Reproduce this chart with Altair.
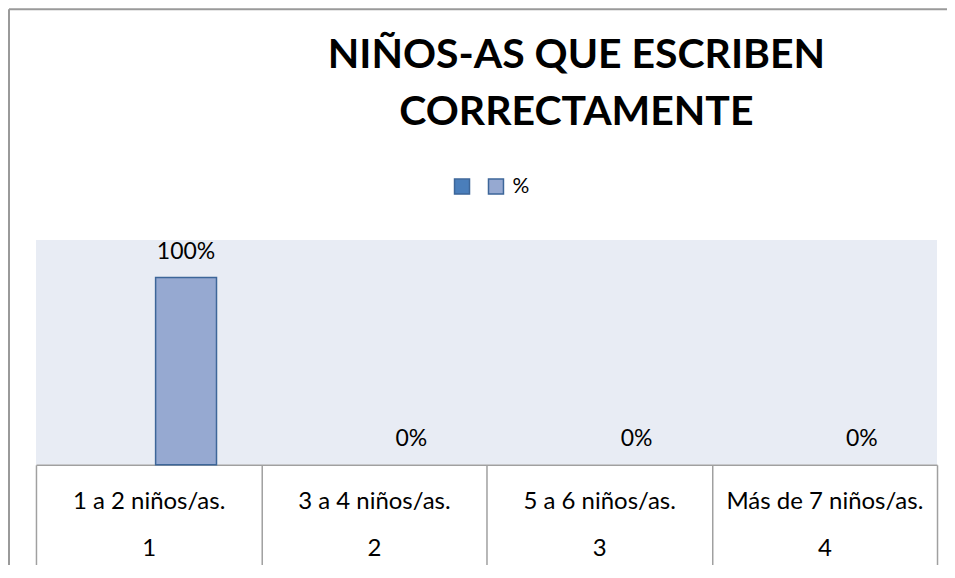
import altair as alt
import pandas as pd

categories = ["1 a 2 niños/as.", "3 a 4 niños/as.", "5 a 6  niños/as.", "Más de 7 niños/as."]
numbers = ["1", "2", "3", "4"]
values = [1.0, 0.0, 0.0, 0.0]
series = [" ", "%"]
title_lines = ["NIÑOS-AS QUE ESCRIBEN", "CORRECTAMENTE"]

df = pd.DataFrame({
    "key": [f"{c}|{n}" for c, n in zip(categories, numbers)],
    "value": values,
    "series": ["%"] * len(categories),
})

W, H = 902, 225
FONT = "Lato"
GRID = "#a0a0a0"
BORDER = "#9a9a9a"

x = alt.X(
    "key:N", sort=None,
    scale=alt.Scale(paddingInner=0, paddingOuter=0),
    axis=alt.Axis(
        title=None, labelExpr="split(datum.label, '|')", labelAngle=0,
        labelFont=FONT, labelFontSize=24, labelColor="#000", labelLineHeight=47,
        labelBaseline="top", labelPadding=-78, labelLimit=0,
        ticks=True, tickBand="extent", tickSize=103, tickColor=GRID, tickWidth=1.5,
        domainColor=GRID, domainWidth=1.5,
    ),
)
xoff = alt.XOffset("series:N", scale=alt.Scale(domain=series, paddingInner=0.187, paddingOuter=0.597))
y = alt.Y("value:Q", scale=alt.Scale(domain=[0, 1.2]), axis=None)
color = alt.Color(
    "series:N",
    scale=alt.Scale(domain=series, range=["#4a7ebb", "#96a9d1"]),
    legend=alt.Legend(
        title=None, orient="none", legendX=416, legendY=-64, direction="horizontal",
        symbolType="square", symbolSize=225, symbolStrokeColor="#3d6699", symbolStrokeWidth=1.5,
        labelFont=FONT, labelFontSize=21, labelColor="#000", labelOffset=6, columnPadding=7,
    ),
)

bars = alt.Chart(df).mark_bar(stroke="#3d6699", strokeWidth=1.5).encode(
    x=x, xOffset=xoff, y=y, color=color,
    strokeOpacity=alt.condition(alt.datum.value > 0, alt.value(1), alt.value(0)),
)
labels = alt.Chart(df).mark_text(
    font=FONT, fontSize=23, color="#000", baseline="alphabetic", dy=-19
).encode(x=x, xOffset=xoff, y=y, text=alt.Text("value:Q", format=".0%"))

one = pd.DataFrame({"a": [0]})
left_border = alt.Chart(one).mark_rule(color=BORDER, strokeWidth=2, clip=False).encode(
    x=alt.value(-27), y=alt.value(-231), y2=alt.value(400)
)
top_border = alt.Chart(one).mark_rule(color=BORDER, strokeWidth=2, clip=False).encode(
    x=alt.value(-27), x2=alt.value(1000), y=alt.value(-231)
)

chart = alt.layer(bars, labels, left_border, top_border).properties(
    width=W, height=H,
    autosize=alt.AutoSizeParams(type="none"),
    padding={"left": 28, "top": 232, "right": 10, "bottom": 100},
    background="white",
    title=alt.TitleParams(
        text=title_lines, font=FONT, fontSize=41, fontWeight="bold", color="#000",
        anchor="middle", frame="group", dx=90, offset=-167, baseline="bottom", lineHeight=57,
    ),
).configure_view(fill="#e8ecf4", strokeWidth=0)

chart.save("out.html", embed_options={"renderer": "svg", "actions": False})
